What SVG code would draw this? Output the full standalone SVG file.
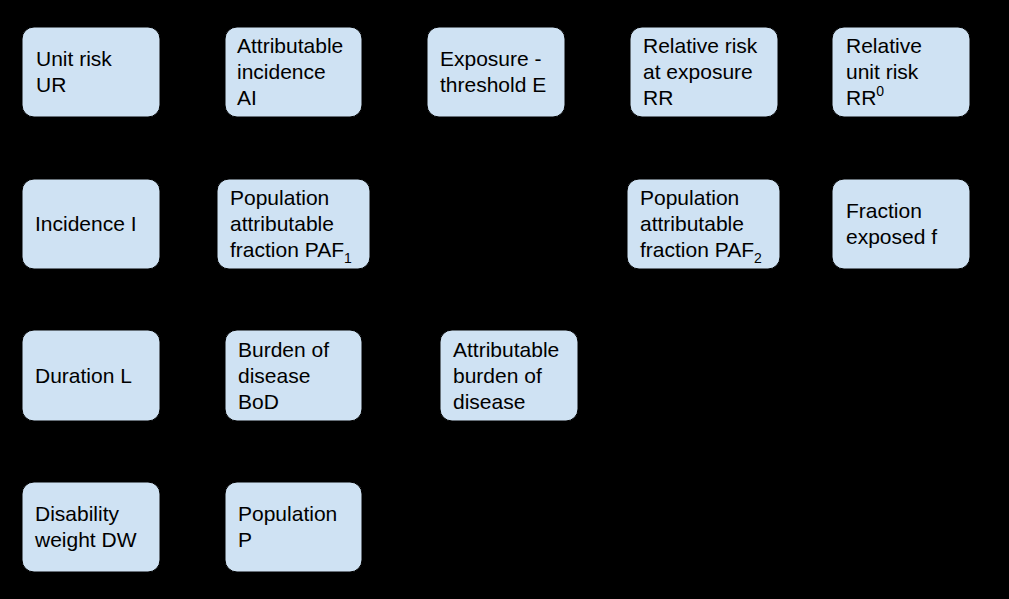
<svg xmlns="http://www.w3.org/2000/svg" width="1009" height="599" viewBox="0 0 1009 599">
<defs>
<style>
.box{fill:#cfe2f3;stroke:#000;stroke-width:1}
.t{font-family:"Liberation Sans",Arial,sans-serif;font-size:21px;fill:#000}
.s{font-size:14px}
.c{fill:none;stroke:#000;stroke-width:2}
</style>
<marker id="ah" viewBox="0 0 10 10" refX="9" refY="5" markerWidth="5" markerHeight="5" orient="auto"><path d="M0,0 L10,5 L0,10 z" fill="#000"/></marker>
</defs>
<rect width="1009" height="599" fill="#000"/>
<g id="connectors">
<line class="c" x1="160" y1="72" x2="225" y2="72" marker-end="url(#ah)"/>
<line class="c" x1="427" y1="72" x2="362" y2="72" marker-end="url(#ah)"/>
<line class="c" x1="565" y1="72" x2="630" y2="72" marker-end="url(#ah)"/>
<line class="c" x1="832" y1="72" x2="778" y2="72" marker-end="url(#ah)"/>
<line class="c" x1="293" y1="117" x2="293" y2="179" marker-end="url(#ah)"/>
<line class="c" x1="704" y1="117" x2="704" y2="179" marker-end="url(#ah)"/>
<line class="c" x1="217" y1="226" x2="160" y2="226" marker-end="url(#ah)"/>
<line class="c" x1="832" y1="224" x2="780" y2="224" marker-end="url(#ah)"/>
<line class="c" x1="295" y1="268" x2="485" y2="330" marker-end="url(#ah)"/>
<line class="c" x1="702" y1="268" x2="535" y2="330" marker-end="url(#ah)"/>
<line class="c" x1="362" y1="375" x2="440" y2="375" marker-end="url(#ah)"/>
<line class="c" x1="160" y1="375" x2="225" y2="375" marker-end="url(#ah)"/>
<line class="c" x1="160" y1="525" x2="225" y2="420" marker-end="url(#ah)"/>
<line class="c" x1="293" y1="482" x2="293" y2="421" marker-end="url(#ah)"/>
</g>
<g id="n-ur"><rect class="box" x="22" y="27" width="138" height="90" rx="12"/><text class="t" x="36" y="66">Unit risk</text><text class="t" x="36" y="92">UR</text></g>
<g id="n-ai"><rect class="box" x="225" y="27" width="137" height="90" rx="12"/><text class="t" x="237" y="53">Attributable</text><text class="t" x="237" y="79">incidence</text><text class="t" x="237" y="105">AI</text></g>
<g id="n-e"><rect class="box" x="427" y="27" width="138" height="90" rx="12"/><text class="t" x="440" y="66">Exposure -</text><text class="t" x="440" y="92">threshold E</text></g>
<g id="n-rr"><rect class="box" x="630" y="27" width="148" height="90" rx="12"/><text class="t" x="643" y="53">Relative risk</text><text class="t" x="643" y="79">at exposure</text><text class="t" x="643" y="105">RR</text></g>
<g id="n-rr0"><rect class="box" x="832" y="27" width="138" height="90" rx="12"/><text class="t" x="846" y="53">Relative</text><text class="t" x="846" y="79">unit risk</text><text class="t" x="846" y="105">RR<tspan class="s" dy="-9">0</tspan></text></g>
<g id="n-i"><rect class="box" x="22" y="179" width="138" height="90" rx="12"/><text class="t" x="35" y="231">Incidence I</text></g>
<g id="n-paf1"><rect class="box" x="217" y="179" width="153" height="90" rx="12"/><text class="t" x="230" y="205">Population</text><text class="t" x="230" y="231">attributable</text><text class="t" x="230" y="257">fraction PAF<tspan class="s" dy="6">1</tspan></text></g>
<g id="n-paf2"><rect class="box" x="627" y="179" width="153" height="90" rx="12"/><text class="t" x="640" y="205">Population</text><text class="t" x="640" y="231">attributable</text><text class="t" x="640" y="257">fraction PAF<tspan class="s" dy="6">2</tspan></text></g>
<g id="n-f"><rect class="box" x="832" y="179" width="138" height="90" rx="12"/><text class="t" x="846" y="218">Fraction</text><text class="t" x="846" y="244">exposed f</text></g>
<g id="n-l"><rect class="box" x="22" y="330" width="138" height="91" rx="12"/><text class="t" x="35" y="383">Duration L</text></g>
<g id="n-bod"><rect class="box" x="225" y="330" width="137" height="91" rx="12"/><text class="t" x="238" y="357">Burden of</text><text class="t" x="238" y="383">disease</text><text class="t" x="238" y="409">BoD</text></g>
<g id="n-abod"><rect class="box" x="440" y="330" width="138" height="91" rx="12"/><text class="t" x="453" y="357">Attributable</text><text class="t" x="453" y="383">burden of</text><text class="t" x="453" y="409">disease</text></g>
<g id="n-dw"><rect class="box" x="22" y="482" width="138" height="90" rx="12"/><text class="t" x="35" y="521">Disability</text><text class="t" x="35" y="547">weight DW</text></g>
<g id="n-p"><rect class="box" x="225" y="482" width="137" height="90" rx="12"/><text class="t" x="238" y="521">Population</text><text class="t" x="238" y="547">P</text></g>
</svg>
